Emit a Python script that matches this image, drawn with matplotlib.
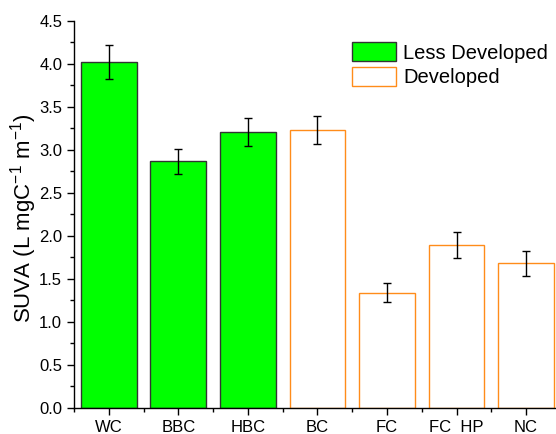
import numpy as np
import matplotlib.pyplot as plt
from matplotlib.ticker import MultipleLocator, FixedLocator
from matplotlib.patches import Patch

plt.rcParams['font.family'] = ['Liberation Sans', 'DejaVu Sans']
plt.rcParams['mathtext.fontset'] = 'custom'
plt.rcParams['mathtext.rm'] = 'Liberation Sans'

# Datos
sitios = ["WC", "BBC", "HBC", "BC", "FC", "FC  HP", "NC"]
suva = [4.02, 2.87, 3.21, 3.23, 1.34, 1.89, 1.68]
error = [0.20, 0.145, 0.16, 0.16, 0.11, 0.15, 0.15]
grupo = ["Less Developed"] * 3 + ["Developed"] * 4

verde = "#00FF00"
naranja = "#FF8C1A"

fig = plt.figure(figsize=(5.56, 4.34), dpi=100)
ax = fig.add_axes([0.133, 0.060, 0.867, 0.892])

x = np.arange(len(sitios))
for i in range(len(sitios)):
    if grupo[i] == "Less Developed":
        ax.bar(x[i], suva[i], width=0.8, color=verde, edgecolor="#333333", linewidth=1.0)
    else:
        ax.bar(x[i], suva[i], width=0.8, color="white", edgecolor=naranja, linewidth=1.0)
ax.errorbar(x, suva, yerr=error, fmt="none", ecolor="black", elinewidth=1.0,
            capsize=2.6, capthick=1.0)

ax.set_xlim(-0.5, 6.43)
ax.set_ylim(0, 4.5)
ax.set_xticks(x)
ax.set_xticklabels(sitios, fontsize=12)
ax.xaxis.set_minor_locator(FixedLocator(np.arange(-0.5, 7, 1.0)))
ax.yaxis.set_major_locator(MultipleLocator(0.5))
ax.yaxis.set_minor_locator(MultipleLocator(0.25))
ax.yaxis.set_major_formatter(plt.FormatStrFormatter("%.1f"))
ax.tick_params(axis="y", labelsize=12)
ax.tick_params(which="major", direction="out", length=5, width=1.0)
ax.tick_params(which="minor", direction="out", length=3, width=1.0)

ax.spines["top"].set_visible(False)
ax.spines["right"].set_visible(False)
ax.spines["left"].set_linewidth(1.0)
ax.spines["bottom"].set_linewidth(1.0)

ax.set_ylabel(r"SUVA (L mgC$^{\mathregular{-1}}$ m$^{\mathregular{-1}}$)", fontsize=16)
ax.yaxis.set_label_coords(-0.072, 0.49)

handles = [Patch(facecolor=verde, edgecolor="#333333", label="Less Developed"),
           Patch(facecolor="white", edgecolor=naranja, label="Developed")]
ax.legend(handles=handles, loc="upper left", bbox_to_anchor=(0.577, 0.945), frameon=False,
          fontsize=14.5, handlelength=2.2, handleheight=1.1, labelspacing=0.2,
          handletextpad=0.35, borderpad=0, borderaxespad=0)

plt.savefig("out.png", dpi=100)
